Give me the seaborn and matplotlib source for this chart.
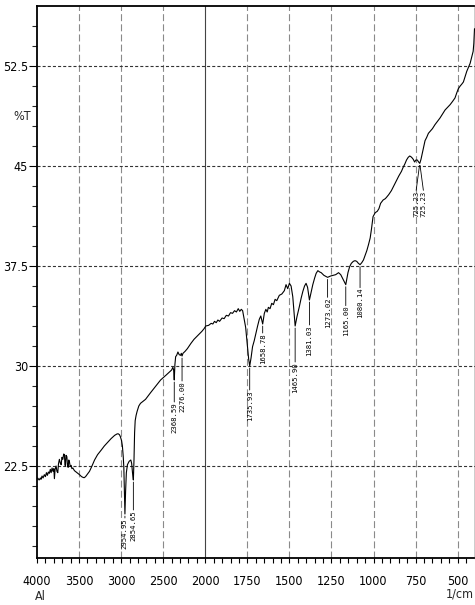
import numpy as np
import pandas as pd
import matplotlib
matplotlib.use("Agg")
import matplotlib.pyplot as plt
from matplotlib import font_manager
from matplotlib.ticker import FixedLocator, FixedFormatter
import seaborn as sns

# FTIR spectrum: wavenumber (1/cm) and transmittance (%T)
wavenumber = [
    4000, 3992, 3975, 3960, 3952, 3940, 3928, 3913, 3900, 3888, 3876, 3865,
    3853, 3842, 3832, 3821, 3810, 3800, 3793, 3785, 3773, 3763, 3753, 3745,
    3734, 3722, 3713, 3703, 3693, 3683, 3674, 3668, 3662, 3655, 3645, 3638,
    3630, 3622, 3614, 3605, 3594, 3585, 3574, 3555, 3534, 3515, 3495, 3470,
    3454, 3440, 3423, 3400, 3376, 3350, 3316, 3280, 3236, 3200, 3156, 3120,
    3077, 3050, 3036, 3020, 3009, 2995, 2985, 2975, 2968, 2962, 2954.95, 2947,
    2938, 2925, 2905, 2885, 2875, 2865, 2854.65, 2847, 2840, 2833, 2822, 2810,
    2790, 2770, 2740, 2710, 2650, 2600, 2531, 2460, 2400, 2385, 2376, 2368.59,
    2361, 2352, 2340, 2325, 2310, 2293, 2285, 2276.00, 2265, 2240, 2213, 2170,
    2134, 2080, 2040, 2014, 1997, 1980, 1965, 1955, 1945, 1935, 1925, 1915,
    1900, 1888, 1875, 1862, 1850, 1838, 1826, 1815, 1804, 1795, 1786, 1778,
    1770, 1760, 1750, 1742, 1735.93, 1728, 1719, 1709, 1699, 1689, 1679, 1670,
    1658.78, 1649, 1640, 1632, 1625, 1615, 1605, 1595, 1585, 1575, 1560, 1545,
    1530, 1520, 1510, 1500, 1490, 1480, 1472, 1465.90, 1455, 1441, 1430, 1420,
    1410, 1401, 1392, 1381.03, 1370, 1361, 1350, 1341, 1331, 1320, 1311, 1295,
    1273.02, 1255, 1241, 1225, 1208, 1195, 1185, 1175, 1165.00, 1158, 1152, 1142,
    1132, 1120, 1110, 1100, 1090, 1080.14, 1070, 1060, 1050, 1040, 1030, 1020,
    1012, 1003, 990, 978, 968, 958, 943, 930, 923, 910, 894, 880,
    864, 850, 834, 824, 814, 804, 794, 785, 778, 770, 764, 756,
    748, 740, 732, 725.23, 718, 712, 704, 694, 684, 674, 660, 650,
    635, 620, 605, 590, 575, 560, 545, 530, 516, 505, 496, 485,
    475, 466, 456, 446, 436, 426, 416, 408, 404, 400,
]
transmittance = [
    21.5, 21.6, 21.45, 21.6, 21.5, 21.75, 21.6, 21.85, 21.7, 22.0, 21.8, 22.05,
    21.95, 22.25, 22.0, 22.35, 22.1, 22.3, 21.55, 22.25, 22.5, 22.1, 22.0, 22.65,
    23.0, 22.7, 22.6, 23.15, 23.0, 23.4, 23.35, 22.6, 22.5, 23.3, 23.2, 22.6,
    22.4, 22.95, 22.8, 22.45, 22.55, 22.3, 22.35, 22.15, 22.05, 21.95, 21.85, 21.7,
    21.65, 21.62, 21.7, 21.9, 22.1, 22.45, 22.95, 23.35, 23.7, 24.0, 24.3, 24.55,
    24.8, 24.9, 24.92, 24.85, 24.7, 24.4, 24.0, 23.2, 22.4, 20.8, 18.9, 20.6,
    22.0, 22.6, 22.85, 22.95, 22.7, 22.0, 21.45, 23.0, 25.0, 25.9, 26.3, 26.6,
    27.0, 27.2, 27.35, 27.5, 28.0, 28.4, 28.95, 29.35, 29.7, 29.9, 29.7, 28.95,
    30.1, 30.7, 30.8, 31.05, 30.85, 30.8, 30.95, 30.75, 30.95, 31.1, 31.3, 31.7,
    32.0, 32.35, 32.6, 32.8, 33.0, 33.05, 33.2, 33.15, 33.35, 33.25, 33.45, 33.35,
    33.6, 33.55, 33.8, 33.75, 34.0, 33.95, 34.15, 34.05, 34.3, 34.1, 34.25, 34.15,
    33.6, 32.9, 31.6, 30.5, 30.0, 30.6, 31.45, 31.9, 32.45, 33.0, 33.5, 33.75,
    33.15, 33.95, 34.25, 34.05, 34.4, 34.3, 34.7, 34.6, 35.0, 34.9, 35.3, 35.4,
    35.65, 36.1, 35.8, 36.2, 36.0, 35.2, 34.0, 33.0, 33.7, 34.45, 35.1, 35.6,
    36.0, 36.2, 35.9, 34.95, 35.6, 36.1, 36.6, 36.95, 37.15, 37.05, 37.0, 36.8,
    36.65, 36.75, 36.8, 36.85, 37.0, 36.85, 36.6, 36.35, 36.1, 36.6, 37.0, 37.45,
    37.7, 37.85, 37.9, 37.85, 37.7, 37.6, 37.75, 37.95, 38.3, 38.65, 39.1, 39.6,
    40.3, 41.2, 41.5, 41.6, 41.8, 42.2, 42.45, 42.55, 42.65, 42.85, 43.15, 43.5,
    43.9, 44.25, 44.6, 44.9, 45.15, 45.45, 45.65, 45.75, 45.7, 45.6, 45.5, 45.3,
    45.45, 45.45, 45.3, 45.2, 45.5, 45.85, 46.35, 46.9, 47.15, 47.45, 47.65, 47.8,
    48.1, 48.35, 48.6, 48.9, 49.2, 49.4, 49.6, 49.85, 50.1, 50.5, 50.8, 51.0,
    51.15, 51.3, 51.7, 52.1, 52.4, 52.7, 53.2, 53.6, 54.2, 55.3,
]

# Peak annotations
peak_labels = ["2954.95", "2854.65", "2368.59", "2276.00", "1735.93", "1658.78",
               "1465.90", "1381.03", "1273.02", "1165.00", "1080.14", "725.23",
               "725.23"]

# Axis ticks
x_major = [4000, 3500, 3000, 2500, 2000, 1750, 1500, 1250, 1000, 750, 500]
x_tick_labels = ["4000", "3500", "3000", "2500", "2000", "1750", "1500",
                 "1250", "1000", "750", "500"]
y_major = [22.5, 30, 37.5, 45, 52.5]
y_tick_labels = ["22.5", "30", "37.5", "45", "52.5"]

# Label leader styling (drop below the peak and sideways shift, in pixels)
label_drop_px = [4, 30, 22, 25, 24, 9, 36, 25, 20, 21, 23, 27, 27]
label_shift_px = [0, 0, 0, 0, 0, 0, 0, 0, 0, 0, 0, -3.6, 3.6]

df = pd.DataFrame({"wavenumber": wavenumber, "T": transmittance})

sns.set_style("white")
plt.rcParams["lines.scale_dashes"] = False

# Prefer a condensed face for the axis text when one is installed
has_condensed = any(f.name == "DejaVu Sans" and "condensed" in str(f.stretch).lower()
                    for f in font_manager.fontManager.ttflist)
if has_condensed:
    plt.rcParams["font.family"] = ["DejaVu Sans"]
    plt.rcParams["font.stretch"] = "condensed"
    axis_fs = 9.0
else:
    plt.rcParams["font.family"] = ["Liberation Sans", "DejaVu Sans"]
    axis_fs = 8.5

W, H = 475, 605
fig = plt.figure(figsize=(W / 100, H / 100), dpi=100)
ax = fig.add_axes([37 / W, 1 - 558 / H, (474.5 - 37) / W, (558 - 6) / H])


# Half-scale above 2000 1/cm, full scale below
def fwd(x):
    x = np.asarray(x, dtype=float)
    return np.where(x > 2000, 2000 + (x - 2000) / 2, x)


def inv(p):
    p = np.asarray(p, dtype=float)
    return np.where(p > 2000, 2000 + (p - 2000) * 2, p)


ax.set_xscale("function", functions=(fwd, inv))

# grid
for xv in x_major[1:]:
    if xv == 2000:
        ax.axvline(xv, color="#444444", lw=0.8, zorder=1)
    else:
        ax.axvline(xv, color="#8a8a8a", lw=0.8, linestyle=(0, (5, 2.3)), zorder=1)
for yv in y_major:
    ax.axhline(yv, color="#333333", lw=0.8, linestyle=(0, (2.2, 1.5)), zorder=1)

sns.lineplot(data=df, x="wavenumber", y="T", color="black", lw=0.8,
             estimator=None, sort=False, ax=ax, zorder=3)

ax.set_xlim(4000, 400)
ax.set_ylim(15.6, 57.0)

ax.xaxis.set_major_locator(FixedLocator(x_major))
ax.xaxis.set_major_formatter(FixedFormatter(x_tick_labels))
x_minor = [v for v in list(range(3900, 2000, -100)) + list(range(1950, 400, -50))
           if v not in x_major]
ax.xaxis.set_minor_locator(FixedLocator(x_minor))
ax.yaxis.set_major_locator(FixedLocator(y_major))
ax.yaxis.set_major_formatter(FixedFormatter(y_tick_labels))
y_minor = [round(v, 2) for v in np.arange(16.5, 57.0, 1.5) if round(v, 2) not in y_major]
ax.yaxis.set_minor_locator(FixedLocator(y_minor))

ax.tick_params(axis="x", which="both", direction="out", length=3.8, width=0.8,
               bottom=True, top=False, labelsize=axis_fs, pad=8.5, colors="black")
ax.tick_params(axis="y", which="major", direction="out", length=5.5, width=0.8,
               left=True, right=False, labelsize=axis_fs, pad=1, colors="black")
ax.tick_params(axis="y", which="minor", direction="out", length=3.8, width=0.8,
               left=True, right=False)
ax.set_xlabel("")
ax.set_ylabel("")

for side, sp in ax.spines.items():
    sp.set_visible(True)
    sp.set_color("black")
    sp.set_linewidth(1.3 if side in ("top", "left", "bottom") else 1.0)

# peak labels hanging below each band
px2pt = 0.72
for lab, drop, shift in zip(peak_labels, label_drop_px, label_shift_px):
    wn = float(lab)
    t = float(np.interp(wn, wavenumber[::-1], transmittance[::-1]))
    ax.annotate("", xy=(wn, t), xytext=(shift * px2pt, -drop * px2pt),
                textcoords="offset points",
                arrowprops=dict(arrowstyle="-", lw=0.6, color="black",
                                shrinkA=0, shrinkB=1.5), zorder=4)
    ax.annotate(lab, xy=(wn, t), xytext=(shift * px2pt, -drop * px2pt),
                textcoords="offset points", rotation=90, ha="center", va="top",
                fontsize=5.2, family="DejaVu Sans Mono", fontstretch="normal",
                color="black", zorder=4)

fig.text(22 / W, 1 - 117 / H, "%T", ha="center", va="center", fontsize=axis_fs)
fig.text(40 / W, 1 - 597 / H, "Al", ha="center", va="center", fontsize=axis_fs)
fig.text(474 / W, 1 - 594 / H, "1/cm", ha="right", va="center", fontsize=axis_fs)

fig.savefig("out.png", dpi=100, facecolor="white")
